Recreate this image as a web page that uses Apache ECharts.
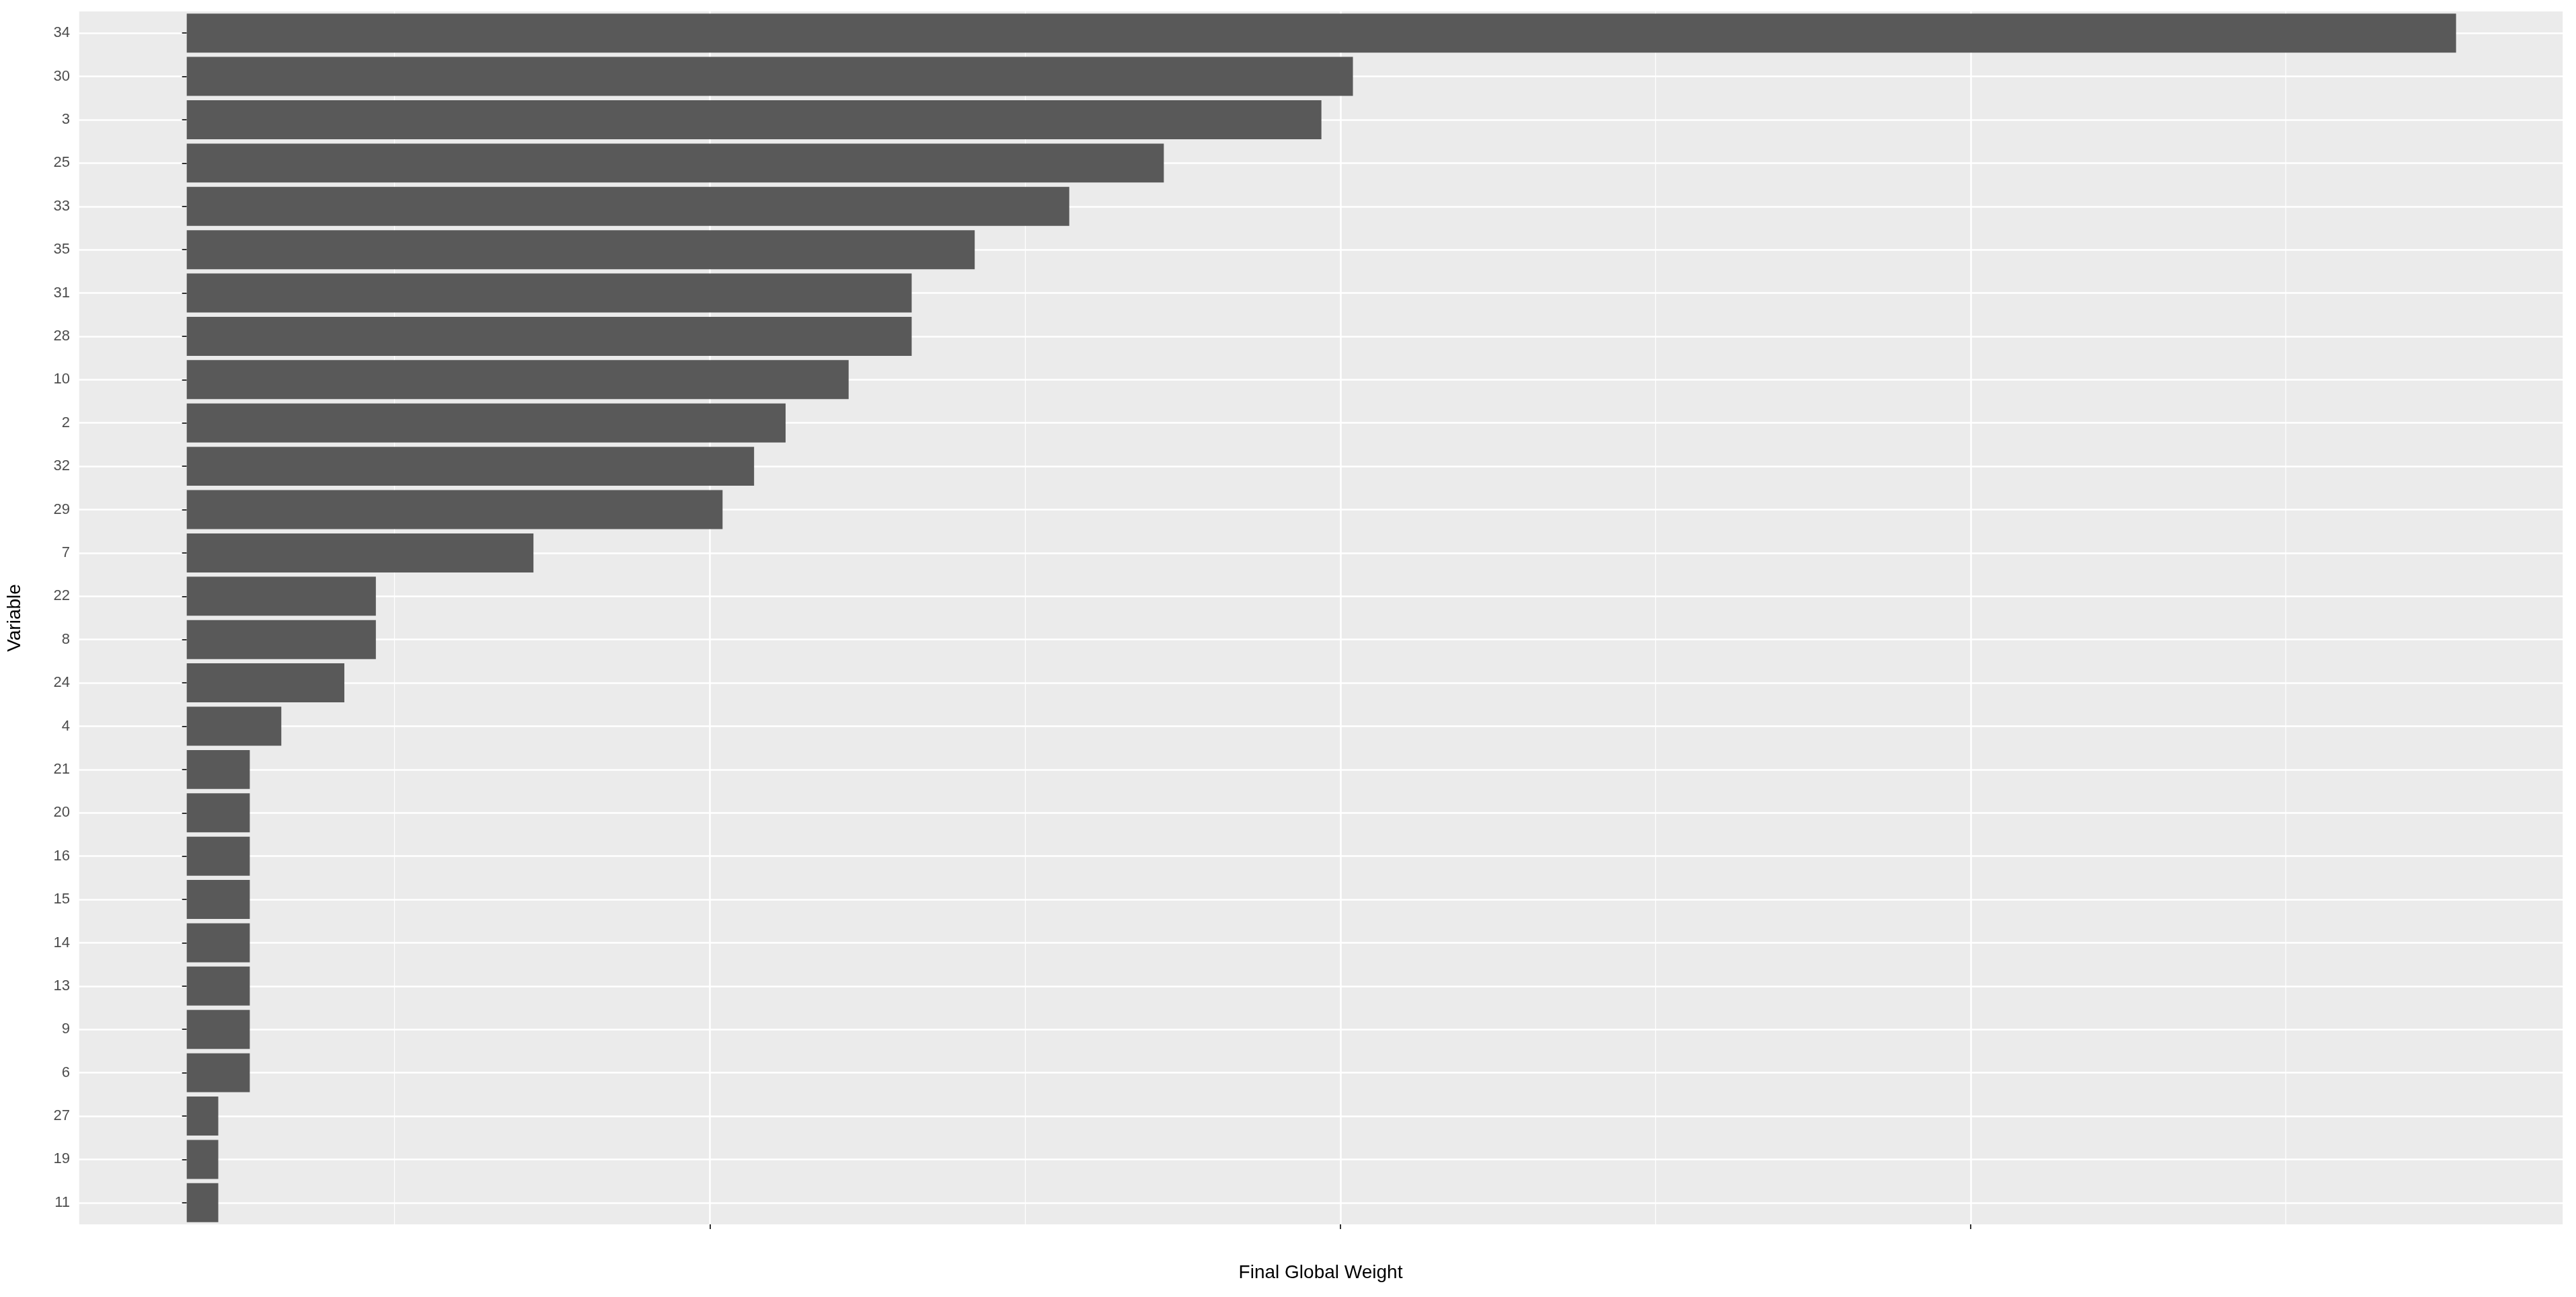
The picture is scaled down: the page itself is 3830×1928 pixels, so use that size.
<!DOCTYPE html>
<html>
<head>
<meta charset="utf-8">
<script src="https://cdn.jsdelivr.net/npm/echarts@6/dist/echarts.min.js"></script>
<style>html,body{margin:0;padding:0;background:#fff}#main{width:3830px;height:1928px}</style>
</head>
<body>
<div id="main"></div>
<script>
var variables = ['11','19','27','6','9','13','14','15','16','20','21','4','24','8','22','7','29','32','2','10','28','31','35','33','25','3','30','34'];
var weights = [0.01,0.01,0.01,0.02,0.02,0.02,0.02,0.02,0.02,0.02,0.02,0.03,0.05,0.06,0.06,0.11,0.17,0.18,0.19,0.21,0.23,0.23,0.25,0.28,0.31,0.36,0.37,0.72];

var myChart = echarts.init(document.getElementById('main'));
var font = 'Liberation Sans, Arial, sans-serif';
option = {
    animation: false,
    grid: {
        left: 112,
        right: 19,
        top: 17,
        bottom: 108,
        show: true,
        backgroundColor: '#EBEBEB',
        borderWidth: 0
    },
    xAxis: {
        type: 'value',
        min: -0.0345,
        max: 0.754,
        interval: 0.2,
        name: 'Final Global Weight',
        nameLocation: 'middle',
        nameGap: 58,
        nameTextStyle: { color: '#000', fontSize: 28, fontFamily: font },
        axisLine: { show: false },
        axisTick: { show: true, length: 7, lineStyle: { color: '#333', width: 2 } },
        axisLabel: {
            color: '#4D4D4D', fontSize: 22, fontFamily: font, margin: 14,
            showMinLabel: false, showMaxLabel: false,
            formatter: function (v) { return Math.abs(v - Math.round(v * 5) / 5) < 1e-9 ? v.toFixed(1) : ''; }
        },
        splitLine: { show: true, lineStyle: { color: '#fff', width: 2.5 } },
        minorTick: { show: false, splitNumber: 2 },
        minorSplitLine: { show: true, lineStyle: { color: '#fff', width: 1.2 } }
    },
    yAxis: {
        type: 'category',
        data: variables,
        name: 'Variable',
        nameLocation: 'middle',
        nameGap: 80,
        nameTextStyle: { color: '#000', fontSize: 28, fontFamily: font },
        axisLine: { show: false },
        axisTick: { show: true, alignWithLabel: true, length: 7, lineStyle: { color: '#333', width: 2 } },
        axisLabel: { color: '#4D4D4D', fontSize: 22, fontFamily: font, margin: 12 },
        splitLine: { show: true, alignWithLabel: true, lineStyle: { color: '#fff', width: 2.5 } }
    },
    series: [{
        type: 'bar',
        data: weights,
        barCategoryGap: '10%',
        itemStyle: { color: '#595959' }
    }]
};
myChart.setOption(option);
</script>
</body>
</html>
